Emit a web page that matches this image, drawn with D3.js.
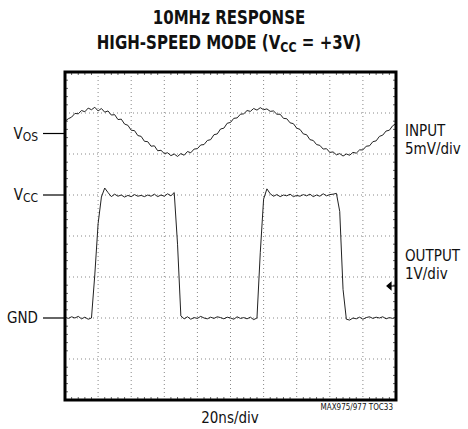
<!DOCTYPE html>
<meta charset="utf-8">
<style>
body { margin: 0; background: #fff; }
svg { display: block; }
text { font-family: "Liberation Sans Narrow", "DejaVu Sans Condensed", sans-serif; fill: #111; }
.title { font-weight: bold; font-size: 19px; }
.lbl { font-size: 15px; }
.grid line { stroke: #888; stroke-width: 1; stroke-dasharray: 1,3; }
.minor line { stroke: #666; stroke-width: 1; }
.trace { fill: none; stroke: #222; stroke-width: 1; }
</style>
<svg width="468" height="429"></svg>
<script src="https://d3js.org/d3.v7.min.js"></script>
<script>

// sample step 2ns, 0..200ns (10 div x 20ns/div)
var step = 2;

// input trace, divisions from bottom of screen
var inputDiv = [6.80, 6.86, 6.90, 6.99, 6.98, 7.06, 7.03, 7.12, 7.08, 7.14,
  7.05, 7.11, 7.02, 7.05, 6.95, 6.96, 6.84, 6.85, 6.73, 6.70,
  6.58, 6.57, 6.45, 6.43, 6.31, 6.30, 6.19, 6.20, 6.08, 6.09,
  6.01, 6.03, 5.96, 6.00, 5.94, 6.01, 5.97, 6.06, 6.03, 6.12,
  6.13, 6.22, 6.23, 6.33, 6.35, 6.47, 6.49, 6.61, 6.63, 6.75,
  6.77, 6.87, 6.88, 6.97, 6.98, 7.06, 7.04, 7.11, 7.07, 7.13,
  7.08, 7.10, 7.04, 7.05, 6.97, 6.97, 6.87, 6.86, 6.76, 6.74,
  6.63, 6.60, 6.49, 6.47, 6.35, 6.33, 6.23, 6.21, 6.12, 6.13,
  6.04, 6.05, 5.98, 6.01, 5.95, 6.00, 5.97, 6.04, 6.02, 6.10,
  6.10, 6.19, 6.20, 6.30, 6.32, 6.43, 6.46, 6.56, 6.58, 6.69,
  6.74];

// output trace, divisions from bottom (GND = 2, VCC = 5)
var outputDiv = [2.02, 1.99, 2.03, 2.00, 2.04, 1.98, 2.02, 1.97, 2.00, 3.05,
  4.30, 4.95, 5.17, 5.06, 4.96, 5.02, 4.97, 5.00, 4.95, 4.99,
  4.96, 5.01, 4.97, 4.99, 4.96, 5.00, 4.97, 5.02, 4.96, 5.00,
  4.97, 5.03, 4.98, 5.06, 3.80, 2.05, 1.98, 2.03, 1.97, 2.01,
  1.99, 2.04, 2.00, 1.98, 2.02, 1.99, 2.03, 2.01, 1.98, 2.02,
  2.00, 1.97, 2.03, 1.99, 2.01, 1.98, 2.02, 1.96, 2.00, 3.60,
  4.90, 5.15, 5.03, 4.97, 5.01, 4.96, 5.00, 4.98, 5.02, 4.96,
  4.99, 4.97, 5.01, 4.98, 5.02, 4.96, 5.00, 4.97, 5.03, 4.98,
  5.01, 5.02, 5.04, 4.60, 2.70, 1.97, 1.95, 2.00, 1.98, 2.02,
  1.97, 2.01, 2.03, 1.99, 2.02, 2.00, 2.03, 1.98, 2.01, 1.99,
  2.02];

var leftLabels = [
  { v: "V", sub: "OS", div: 6.5 },
  { v: "V", sub: "CC", div: 5 },
  { v: "GND", sub: "", div: 2 }
];
var rightLabels = [["INPUT", "5mV/div"], ["OUTPUT", "1V/div"]];

var svg = d3.select("svg");

var x = d3.scaleLinear().domain([0, 200]).range([65, 396]);
var y = d3.scaleLinear().domain([0, 8]).range([400, 72]);

// title, squeezed horizontally to look like the condensed face of the original
var tg = svg.append("g").attr("transform", "translate(229,0) scale(0.88,1)");
tg.append("text").attr("class", "title")
    .attr("x", 0).attr("y", 24).attr("text-anchor", "middle")
    .text("10MHz RESPONSE");
var t2 = tg.append("text").attr("class", "title")
    .attr("x", 0).attr("y", 49).attr("text-anchor", "middle");
t2.append("tspan").text("HIGH-SPEED MODE (V");
t2.append("tspan").attr("font-size", "14px").attr("dy", 3).text("CC");
t2.append("tspan").attr("dy", -3).text(" = +3V)");

// dotted grid
var grid = svg.append("g").attr("class", "grid");
grid.selectAll(".gx").data(d3.range(20, 200, 20)).enter().append("line")
    .attr("x1", d => x(d)).attr("x2", d => x(d))
    .attr("y1", y(8)).attr("y2", y(0));
grid.selectAll(".gy").data(d3.range(1, 8)).enter().append("line")
    .attr("y1", d => y(d)).attr("y2", d => y(d))
    .attr("x1", x(0)).attr("x2", x(200));

// minor ticks on inside of the frame
var minor = svg.append("g").attr("class", "minor");
var mx = d3.range(4, 200, 4).filter(d => d % 20 != 0);
var my = d3.range(0.2, 8, 0.2).filter(d => Math.abs(d - Math.round(d)) > 0.01);
minor.selectAll(".mt").data(mx).enter().append("line")
    .attr("x1", d => x(d)).attr("x2", d => x(d))
    .attr("y1", y(8)).attr("y2", y(8) + 3);
minor.selectAll(".mb").data(mx).enter().append("line")
    .attr("x1", d => x(d)).attr("x2", d => x(d))
    .attr("y1", y(0)).attr("y2", y(0) - 3);
minor.selectAll(".ml").data(my).enter().append("line")
    .attr("y1", d => y(d)).attr("y2", d => y(d))
    .attr("x1", x(0)).attr("x2", x(0) + 3);
minor.selectAll(".mr").data(my).enter().append("line")
    .attr("y1", d => y(d)).attr("y2", d => y(d))
    .attr("x1", x(200)).attr("x2", x(200) - 3);

// traces
var line = d3.line()
    .x(function(d, i) { return x(i * step); })
    .y(function(d) { return y(d); });

svg.append("path").attr("class", "trace").attr("d", line(inputDiv));
svg.append("path").attr("class", "trace").attr("d", line(outputDiv));

// frame
svg.append("rect")
    .attr("x", x(0)).attr("y", y(8))
    .attr("width", x(200) - x(0)).attr("height", y(0) - y(8))
    .attr("fill", "none").attr("stroke", "#000").attr("stroke-width", 3);

// ground marker arrow on the right
var ay = y(2.78);
svg.append("path")
    .attr("d", "M" + (x(200) - 9) + "," + ay + "l4,-3.5v7z M" + (x(200) - 6) + "," + ay + "h5")
    .attr("fill", "#000").attr("stroke", "#000").attr("stroke-width", 1.2);

// left labels with ticks
leftLabels.forEach(function(l) {
  svg.append("line")
      .attr("x1", 43).attr("x2", x(0))
      .attr("y1", y(l.div)).attr("y2", y(l.div))
      .attr("stroke", "#000").attr("stroke-width", 1.2);
  var t = svg.append("text").attr("class", "lbl")
      .attr("x", 38).attr("y", y(l.div) + 5).attr("text-anchor", "end");
  t.append("tspan").text(l.v);
  if (l.sub) t.append("tspan").attr("font-size", "12px").attr("dy", 2).text(l.sub);
});

// right labels
rightLabels.forEach(function(r, i) {
  var yy = i == 0 ? 136 : 261;
  svg.append("text").attr("class", "lbl").attr("x", 405).attr("y", yy).text(r[0]);
  svg.append("text").attr("class", "lbl").attr("x", 405).attr("y", yy + 18).text(r[1]);
});

svg.append("text").attr("class", "lbl")
    .attr("x", 230).attr("y", 423).attr("text-anchor", "middle")
    .text("20ns/div");

svg.append("text")
    .attr("x", 393).attr("y", 410).attr("text-anchor", "end")
    .attr("font-size", "8px")
    .text("MAX975/977 TOC33");

</script>
